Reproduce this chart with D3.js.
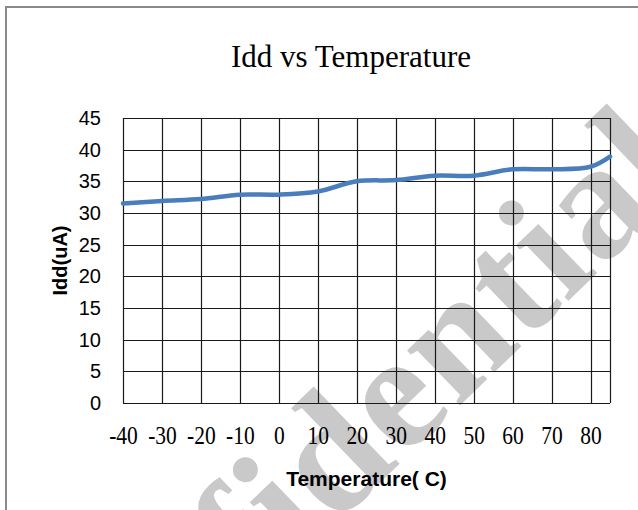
<!DOCTYPE html>
<html>
<head>
<meta charset="utf-8">
<script src="https://cdn.jsdelivr.net/npm/d3@7"></script>
<style>
  body { margin: 0; background: #fff; }
  svg { display: block; }
</style>
</head>
<body>
<div id="chart"></div>
<script>
var svgWidth = 638;
var svgHeight = 510;

var margin = { top: 118, right: 28, bottom: 107, left: 123 };
var plotWidth = svgWidth - margin.left - margin.right;
var plotHeight = svgHeight - margin.top - margin.bottom;

// data
var temperature = [-40, -30, -20, -10, 0, 10, 20, 30, 40, 50, 60, 70, 80, 85];
var idd = [31.5, 31.9, 32.2, 32.9, 32.9, 33.4, 35.0, 35.2, 35.9, 35.9, 36.9, 36.9, 37.3, 38.9];
var xTicks = [-40, -30, -20, -10, 0, 10, 20, 30, 40, 50, 60, 70, 80];
var yTicks = [0, 5, 10, 15, 20, 25, 30, 35, 40, 45];

var svg = d3.select("#chart")
  .append("svg")
  .attr("width", svgWidth)
  .attr("height", svgHeight);

// watermark sits behind everything
svg.append("text")
  .attr("transform", "translate(42, 809) rotate(-44)")
  .attr("font-family", "Liberation Serif, serif")
  .attr("font-weight", "bold")
  .attr("font-size", 166)
  .attr("letter-spacing", 2)
  .attr("fill", "#c9c9c9")
  .text("Confidential");

// outer frame
svg.append("rect")
  .attr("x", 6)
  .attr("y", 7)
  .attr("width", 700)
  .attr("height", 600)
  .attr("fill", "none")
  .attr("stroke", "#8a8a8a")
  .attr("stroke-width", 2);

svg.append("text")
  .attr("x", 351)
  .attr("y", 67)
  .attr("text-anchor", "middle")
  .attr("font-family", "Liberation Serif, serif")
  .attr("font-size", 31)
  .attr("fill", "#000")
  .text("Idd vs Temperature");

var plot = svg.append("g")
  .attr("transform", `translate(${margin.left}, ${margin.top})`);

var x = d3.scaleLinear().domain([-40, 85]).range([0, plotWidth]);
var y = d3.scaleLinear().domain([0, 45]).range([plotHeight, 0]);

// grid
plot.append("g")
  .selectAll("line")
  .data(yTicks)
  .enter()
  .append("line")
  .attr("x1", 0)
  .attr("x2", plotWidth)
  .attr("y1", d => Math.round(y(d)) + 0.5)
  .attr("y2", d => Math.round(y(d)) + 0.5)
  .attr("stroke", "#1a1a1a")
  .attr("stroke-width", 1.2);

plot.append("g")
  .selectAll("line")
  .data(xTicks.concat([85]))
  .enter()
  .append("line")
  .attr("x1", d => Math.round(x(d)) + 0.5)
  .attr("x2", d => Math.round(x(d)) + 0.5)
  .attr("y1", 0)
  .attr("y2", plotHeight)
  .attr("stroke", "#1a1a1a")
  .attr("stroke-width", 1.2);

// axes (labels only), plain hyphen for negatives
var bottomAxis = d3.axisBottom(x).tickValues(xTicks).tickFormat(d => String(d)).tickSize(0).tickPadding(23);
var leftAxis = d3.axisLeft(y).tickValues(yTicks).tickFormat(d => String(d)).tickSize(0).tickPadding(22);

var gx = plot.append("g")
  .attr("transform", `translate(0, ${plotHeight})`)
  .call(bottomAxis);
gx.select(".domain").remove();
// narrow serif look of the original labels
gx.selectAll("text")
  .attr("font-family", "Liberation Serif, serif")
  .attr("font-size", 25)
  .attr("transform", "scale(0.86, 1)")
  .attr("fill", "#000");

var gy = plot.append("g").call(leftAxis);
gy.select(".domain").remove();
gy.selectAll("text")
  .attr("font-family", "Liberation Sans, Arial, sans-serif")
  .attr("font-size", 20)
  .attr("fill", "#000");

// the series
var line = d3.line()
  .x((d, i) => x(temperature[i]))
  .y(d => y(d))
  .curve(d3.curveCatmullRom);

plot.append("path")
  .datum(idd)
  .attr("d", line)
  .attr("fill", "none")
  .attr("stroke", "#4a7ebb")
  .attr("stroke-width", 4.5)
  .attr("stroke-linecap", "round");

// axis titles
svg.append("text")
  .attr("transform", `translate(67, ${margin.top + plotHeight / 2}) rotate(-90)`)
  .attr("text-anchor", "middle")
  .attr("font-family", "Liberation Sans, Arial, sans-serif")
  .attr("font-weight", "bold")
  .attr("font-size", 20)
  .text("Idd(uA)");

svg.append("text")
  .attr("x", margin.left + plotWidth / 2)
  .attr("y", 486)
  .attr("text-anchor", "middle")
  .attr("font-family", "Liberation Sans, Arial, sans-serif")
  .attr("font-weight", "bold")
  .attr("font-size", 21)
  .text("Temperature( C)");
</script>
</body>
</html>
